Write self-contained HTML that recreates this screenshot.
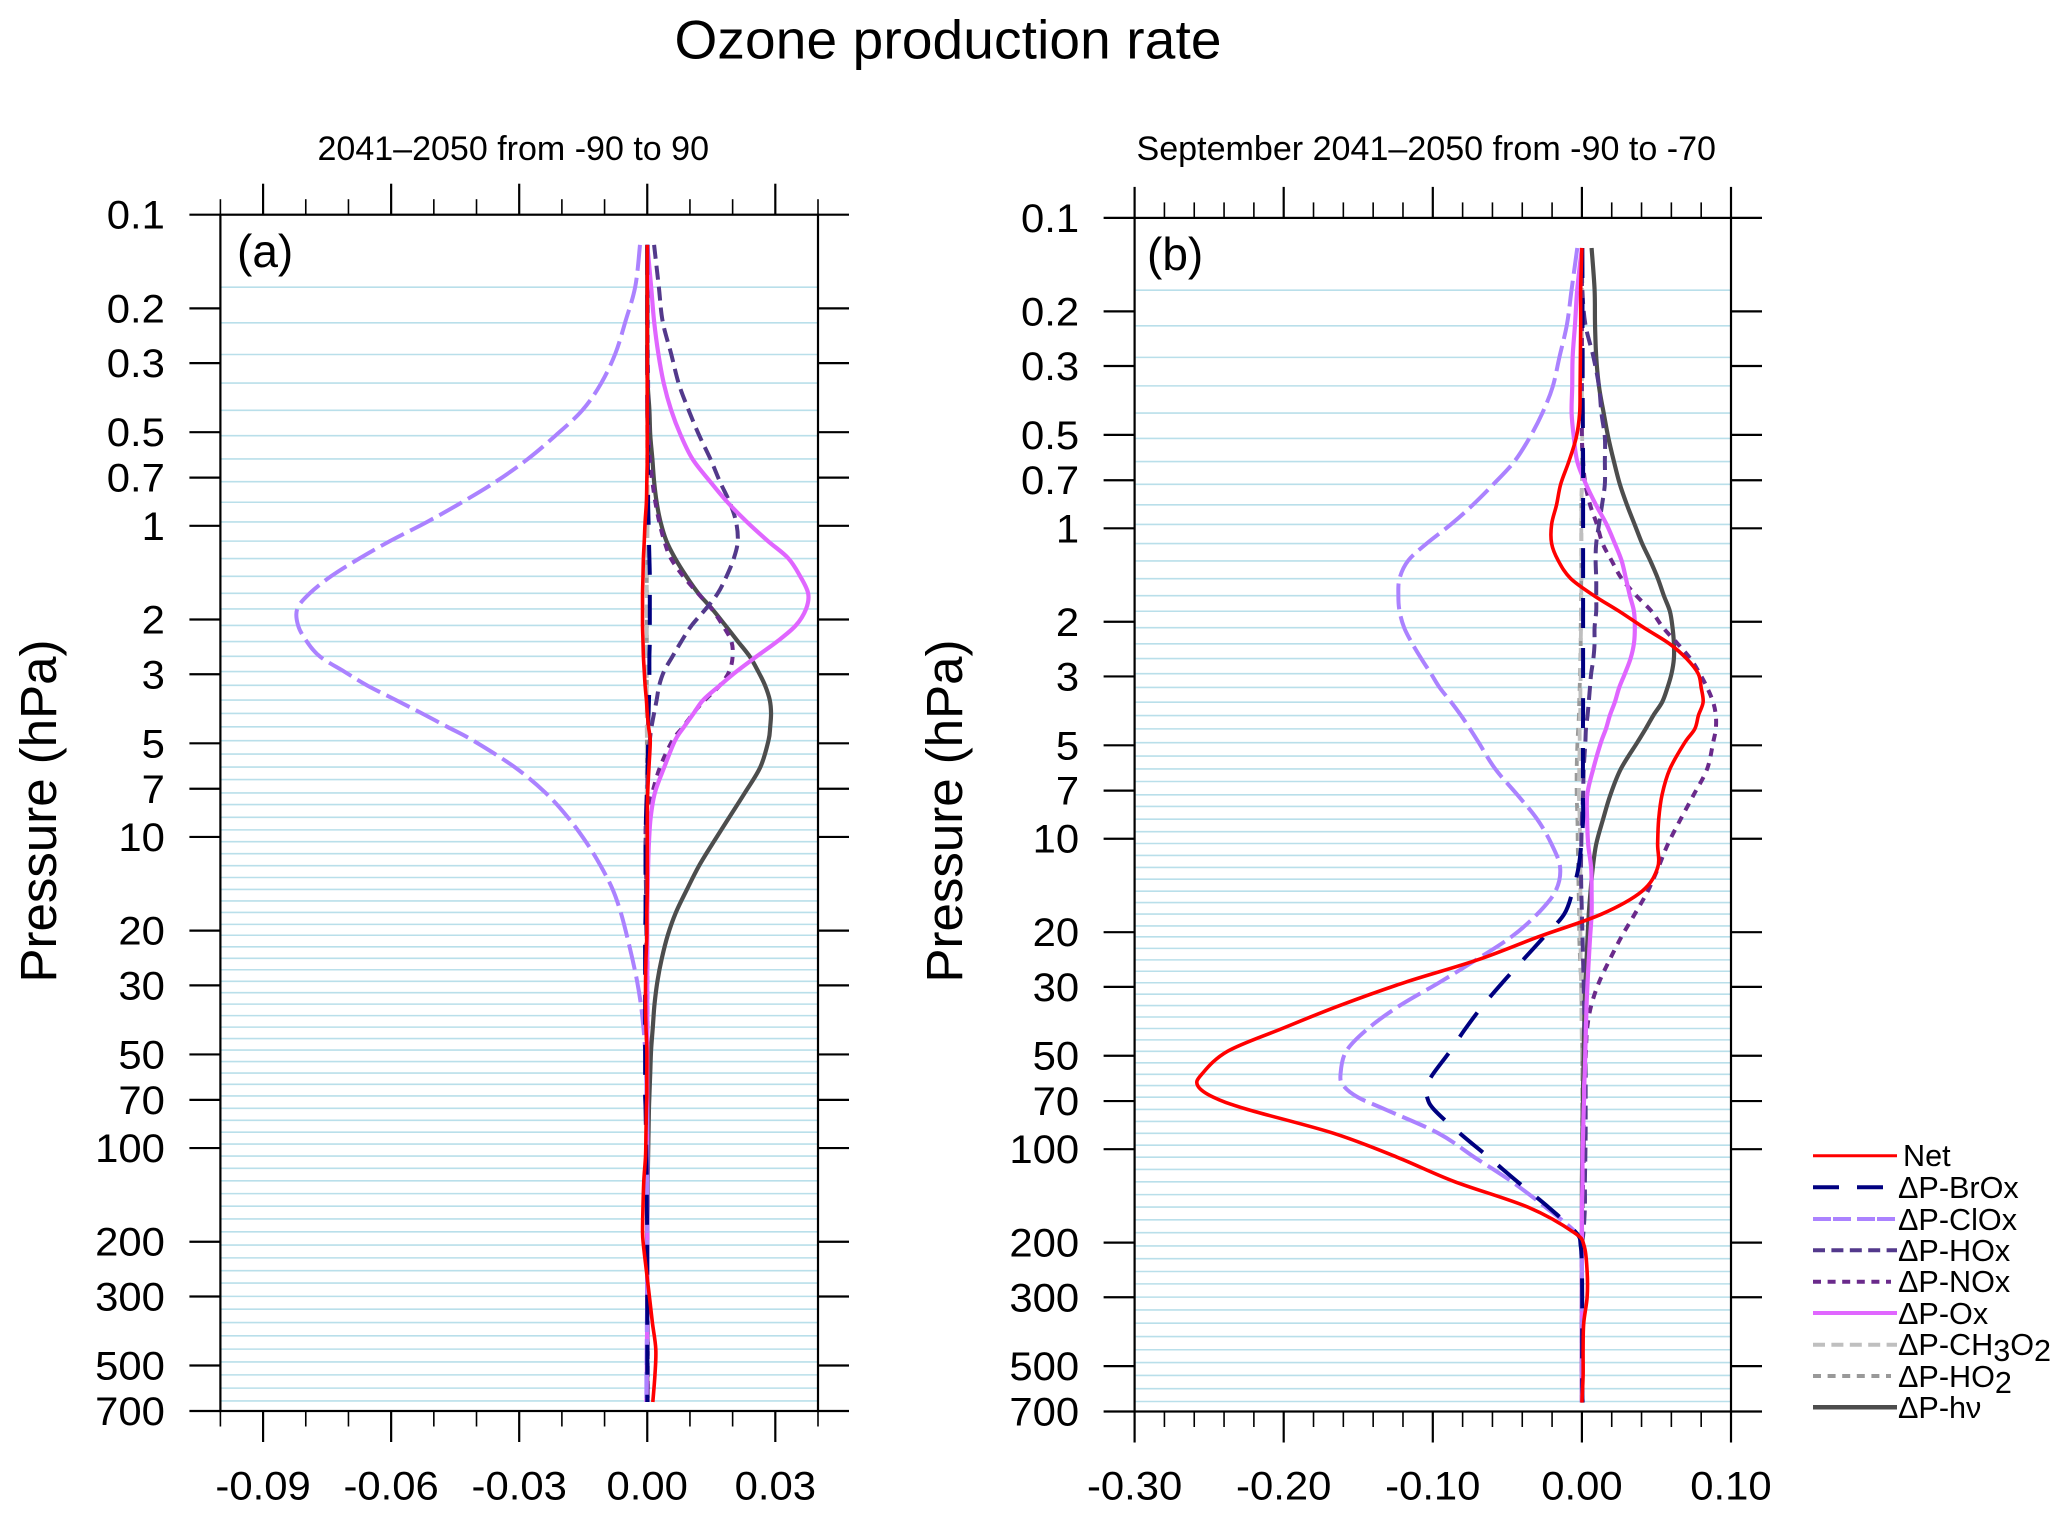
<!DOCTYPE html>
<html lang="en">
<head>
<meta charset="utf-8">
<title>Ozone production rate</title>
<style>
html,body{margin:0;padding:0;background:#fff;}
svg{display:block;font-family:"Liberation Sans",sans-serif;}
text{fill:#000;}
</style>
</head>
<body>
<svg id="chart" xmlns="http://www.w3.org/2000/svg" width="2067" height="1519" viewBox="0 0 2067 1519">
  <rect x="0" y="0" width="2067" height="1519" fill="#fff"/>
  <text x="948" y="58.5" font-size="55" text-anchor="middle" textLength="547">Ozone production rate</text>
  <text x="317.5" y="160" font-size="34" textLength="391.5" lengthAdjust="spacingAndGlyphs">2041–2050 from -90 to 90</text>
  <text x="1136.5" y="160" font-size="34" textLength="579.5" lengthAdjust="spacingAndGlyphs">September 2041–2050 from -90 to -70</text>
  <text transform="translate(56,811) rotate(-90)" font-size="51" text-anchor="middle" textLength="343">Pressure (hPa)</text>
  <text transform="translate(962,811) rotate(-90)" font-size="51" text-anchor="middle" textLength="343">Pressure (hPa)</text>
  <g id="panel-a"></g>
  <g id="panel-b"></g>
  <text x="237" y="267" font-size="46">(a)</text>
  <text x="1147" y="270" font-size="46">(b)</text>

  <g font-size="30.6">
    <g>
      <line x1="1813" x2="1897" y1="1155.7" y2="1155.7" stroke="#ff0000" stroke-width="3"/>
      <text x="1903" y="1166">Net</text>
    </g>
    <g>
      <line x1="1813" x2="1884" y1="1187.3" y2="1187.3" stroke="#000080" stroke-width="4" stroke-dasharray="26 18"/>
      <text x="1898" y="1198">ΔP-BrOx</text>
    </g>
    <g>
      <line x1="1813" x2="1896" y1="1219" y2="1219" stroke="#ab82ff" stroke-width="4" stroke-dasharray="18 2 18 6"/>
      <text x="1898" y="1230">ΔP-ClOx</text>
    </g>
    <g>
      <line x1="1813" x2="1897" y1="1250.3" y2="1250.3" stroke="#53398c" stroke-width="4" stroke-dasharray="12 6.4"/>
      <text x="1898" y="1261">ΔP-HOx</text>
    </g>
    <g>
      <line x1="1813" x2="1891" y1="1281.7" y2="1281.7" stroke="#6a2a8b" stroke-width="4" stroke-dasharray="8 6.6"/>
      <text x="1898" y="1292">ΔP-NOx</text>
    </g>
    <g>
      <line x1="1813" x2="1897" y1="1313" y2="1313" stroke="#e066ff" stroke-width="4"/>
      <text x="1898" y="1324">ΔP-Ox</text>
    </g>
    <g>
      <line x1="1813" x2="1897" y1="1344.7" y2="1344.7" stroke="#bfbfbf" stroke-width="4" stroke-dasharray="12 6.4"/>
      <text x="1898" y="1355">ΔP-CH<tspan dy="6">3</tspan><tspan dy="-6">O</tspan><tspan dy="6">2</tspan></text>
    </g>
    <g>
      <line x1="1813" x2="1891" y1="1376" y2="1376" stroke="#999999" stroke-width="4" stroke-dasharray="8 6.6"/>
      <text x="1898" y="1387">ΔP-HO<tspan dy="6">2</tspan></text>
    </g>
    <g>
      <line x1="1813" x2="1897" y1="1407.3" y2="1407.3" stroke="#4d4d4d" stroke-width="4.5"/>
      <text x="1898" y="1418">ΔP-hν</text>
    </g>
  </g>
</svg>
<script>
// ---- shared axis data ----
const yTickValues = [0.1,0.2,0.3,0.5,0.7,1,2,3,5,7,10,20,30,50,70,100,200,300,500,700];
const xTickLabelsA = ["-0.09","-0.06","-0.03","0.00","0.03"];
const xTickLabelsB = ["-0.30","-0.20","-0.10","0.00","0.10"];
const gridLevels = [0.171,0.2226,0.2814,0.3476,0.4253,0.5133,0.6095,0.7216,0.8399,0.9716,1.12,1.274,1.453,1.648,1.85,2.09,2.355,2.627,2.94,3.256,3.631,4.009,4.427,4.904,5.415,5.96,6.54,7.22,7.87,8.65,9.49,10.36,11.32,12.37,13.5,14.75,16.06,17.49,19.1,20.7,22.55,24.56,26.72,29.1,31.67,34.46,37.52,40.86,44.46,48.4,52.7,57.4,62.4,68,74.5,81.4,88.9,97.1,106.1,116.2,127.4,140.1,153.7,168.9,185.8,205,225.4,247.8,271.6,299.7,329.6,363.7,401.4,442.8,487,535.8,591,650];

// ---- pressure levels (hPa) for all series ----
const levels = [0.125,0.17,0.22,0.28,0.35,0.425,0.51,0.61,0.72,
0.84,0.97,1.12,1.27,1.45,1.65,1.85,2.09,2.35,
2.63,2.94,3.26,3.63,4.0,4.43,4.9,5.96,7.2,
8.65,10.4,12.4,14.75,17.5,20.7,24.6,29,34.5,
40.9,48.4,57.4,62.4,68,74.5,88.9,106,127,
154,186,205,248,300,364,443,536,655];

// ---- panel (a) series ----
const netA = [0,0,0,0,0,0,0,0,-.0001,
-.0002,-.0005,-.0007,-.0009,-.001,-.0011,-.0011,-.0011,-.001,
-.0009,-.0007,-.0005,-.0002,0,.0003,.0007,.0004,.0001,
0,0,0,0,-.0001,-.0001,-.0003,-.0004,-.0004,
-.0003,-.0001,-.0001,-.0001,-.0001,-.0002,-.0003,-.0004,-.0008,
-.001,-.0011,-.0009,-.0002,.0005,.0012,.002,.0018,.0013];
const broxA = [0,0,0,0,0,0,.0001,.0001,.0002,
.0002,.0003,.0004,.0005,.0006,.0006,.0006,.0006,.0006,
.0005,.0005,.0005,.0004,.0003,.0002,.0002,.0001,-.0001,
-.0003,-.0004,-.0004,-.0004,-.0004,-.0005,-.0005,-.0005,-.0005,
-.0005,-.0005,-.0005,-.0005,-.0005,-.0004,-.0003,-.0002,-.0001,
-.0001,0,0,0,0,0,0,0,0];
const cloxA = [-.0017,-.0028,-.0051,-.0075,-.0109,-.0152,-.0213,-.0280,-.0354,
-.0434,-.0515,-.0603,-.0673,-.0740,-.0791,-.0820,-.0818,-.0798,
-.0767,-.0710,-.0656,-.0589,-.0529,-.0468,-.0408,-.0311,-.0239,
-.0186,-.0143,-.0109,-.0081,-.0062,-.0048,-.0035,-.0024,-.0015,
-.0009,-.0005,-.0003,-.0002,-.0002,-.0001,-.0001,0,0,
0,0,0,0,0,-.0001,-.0001,-.0002,-.0002];
const hoxA = [.0016,.0027,.0036,.0056,.0074,.0097,.0121,.0148,.0170,
.0193,.0208,.0212,.0203,.0186,.0165,.0137,.0104,.0080,
.0059,.0039,.0028,.0022,.0016,.0010,.0006,.0001,0,
-.0002,-.0004,-.0004,-.0003,-.0003,-.0002,-.0002,-.0001,-.0001,
-.0001,-.0001,-.0001,0,0,0,0,0,0,
0,0,0,0,.0001,.0001,.0001,.0001,.0001];
const noxA = [.0001,.0001,.0001,.0001,.0002,.0002,.0003,.0006,.0012,
.0019,.0028,.0040,.0055,.0084,.0119,.0151,.0177,.0197,
.0200,.0192,.0170,.0135,.0108,.0084,.0059,.0030,.0012,
-.0002,-.0004,-.0003,-.0002,-.0001,-.0001,0,0,0,
0,0,0,0,0,0,0,0,0,
0,0,0,0,0,0,.0001,.0001,.0001];
const oxA = [0,.0009,.0016,.0026,.0039,.0056,.0078,.0106,.0147,
.0188,.0233,.0283,.0330,.0358,.0377,.0372,.0348,.0305,
.0256,.0209,.0170,.0131,.0109,.0086,.0065,.0040,.0018,
.0008,.0004,.0002,.0001,0,0,0,0,0,
0,0,0,0,0,0,0,0,0,
0,0,0,0,0,0,-.0001,-.0001,-.0002];
const ch3o2A = [0,0,0,0,0,0,0,.0001,.0001,
.0001,.0001,0,0,-.0001,-.0001,-.0001,-.0001,-.0001,
-.0001,-.0001,-.0001,-.0001,-.0001,-.0001,-.0001,-.0001,-.0001,
-.0001,-.0001,-.0001,-.0001,-.0001,-.0001,-.0001,-.0001,-.0001,
0,0,0,0,0,0,0,0,0,
0,0,0,0,0,0,0,0,0];
const ho2A = [0,0,0,0,0,0,0,0,0,
0,0,0,0,-.0001,-.0001,-.0001,-.0001,-.0001,
-.0001,-.0001,-.0001,-.0001,-.0001,-.0001,-.0001,-.0001,-.0001,
-.0001,-.0002,-.0002,-.0002,-.0002,-.0001,-.0001,-.0001,-.0001,
0,0,0,0,0,0,0,0,0,
0,0,0,0,0,0,0,0,0];
const hvA = [0,0,0,0,.0001,.0005,.0007,.0012,.0016,
.0022,.0031,.0045,.0065,.0091,.0120,.0152,.0183,.0212,
.0240,.0260,.0276,.0287,.0290,.0288,.0284,.0265,.0229,
.0192,.0155,.0121,.0093,.0067,.0048,.0034,.0024,.0017,
.0013,.0009,.0007,.0006,.0005,.0004,.0003,.0002,.0001,
.0001,0,0,0,0,0,0,0,0];

// ---- panel (b) series ----
const netB = [0,-.0008,-.0008,-.001,-.0012,-.0015,-.0038,-.0088,-.0142,
-.017,-.0203,-.0203,-.0159,-.0076,.0083,.025,.0416,.0585,
.0702,.078,.08,.0813,.0782,.0757,.069,.059,.0538,
.0515,.0508,.0508,.0404,.0131,-.0292,-.0704,-.1185,-.1627,
-.2012,-.2377,-.255,-.2577,-.2473,-.2242,-.1665,-.1242,-.0858,
-.0358,-.005,.0015,.0035,.0035,.0012,.0008,.0008,0];
const broxB = [.0003,.0004,.0004,.0005,.0005,.0006,.0007,.0008,.0008,
.0008,.0008,.0008,.0008,.0008,.0008,.0008,.0008,.0008,
.0008,.0008,.0008,.0008,.0008,.0007,.0007,.0007,.0007,
.0008,-.0004,-.0023,-.0062,-.0119,-.0254,-.0396,-.0531,-.0665,
-.0781,-.0885,-.1,-.1038,-.1038,-.0992,-.0819,-.0627,-.0435,
-.0223,-.0038,-.0008,0,.0002,.0002,.0002,.0002,.0004];
const cloxB = [-.0031,-.0069,-.0100,-.015,-.0196,-.0265,-.035,-.0454,-.0592,
-.0731,-.0877,-.1042,-.1165,-.1223,-.1231,-.1223,-.1192,-.1138,
-.1077,-.1012,-.0954,-.0877,-.0812,-.075,-.0692,-.0581,-.0435,
-.03,-.0204,-.0146,-.0177,-.03,-.0473,-.0712,-.0954,-.1223,
-.1435,-.1581,-.1619,-.16,-.1504,-.1319,-.0962,-.0723,-.0473,
-.0242,-.0038,-.0008,0,0,0,0,0,0];
const hoxB = [0,.0003,.0023,.0077,.0115,.0131,.0154,.0154,.0154,
.0135,.0115,.0096,.0092,.0096,.0096,.0096,.0085,.0085,
.0077,.0062,.0054,.0046,.0038,.0027,.0023,.0012,.0008,
0,-.0004,-.0006,-.0004,0,.0004,.0008,.0012,.0015,
.0018,.0022,.0025,.0025,.0025,.0025,.0025,.0023,.002,
.002,.001,0,0,0,0,0,0,.0005];
const noxB = [0,0,0,0,0,0,0,.0008,.0023,
.0055,.0100,.0139,.0199,.0266,.0366,.0467,.0545,.0641,
.0728,.0791,.084,.088,.0898,.0898,.088,.084,.0751,
.0662,.0577,.0512,.0442,.0354,.0265,.0185,.0115,.0062,
.0035,.0027,.0019,.0015,.0015,.0012,.0012,.0012,.0008,
.0004,0,0,0,0,0,0,0,0];
const oxB = [0,-.0031,-.0046,-.0062,-.0065,-.0069,-.0054,-.0031,.0027,
.0094,.0165,.0221,.0266,.0295,.0322,.0349,.0355,.0349,
.0326,.0288,.025,.0221,.0188,.0161,.0127,.0076,.0036,
.0035,.0042,.0062,.0065,.0065,.0055,.0046,.0038,.0031,
.0027,.0023,.0019,.0015,.0015,.0012,.0008,.0004,.0004,
0,0,0,0,0,0,0,0,0];
const ch3o2B = [0,0,0,0,0,0,.0002,.0002,0,
-.0003,-.0004,-.0004,-.0004,-.0004,-.0004,-.0006,-.0006,-.0008,
-.0008,-.0008,-.001,-.001,-.0012,-.0015,-.0015,-.0018,-.002,
-.0015,-.0012,-.001,-.001,-.001,-.001,-.0008,-.0006,-.0004,
-.0002,0,.0002,.0002,.0002,.0002,.0002,.0002,.0002,
.0002,.0002,0,0,0,0,0,0,0];
const ho2B = [0,0,0,0,0,0,0,0,0,
-.0004,-.0004,-.0004,-.0004,-.0004,-.0006,-.0006,-.0008,-.0008,
-.001,-.0012,-.0015,-.0018,-.002,-.0025,-.003,-.0035,-.0035,
-.003,-.0028,-.0025,-.0022,-.0018,-.0018,-.0012,-.0005,-.0002,
0,.0002,.0002,.0002,.0002,.0002,.0002,.0002,.0002,
0,0,0,0,0,0,0,0,0];
const hvB = [.0065,.0085,.0088,.0096,.0115,.0146,.0177,.0215,.0254,
.0302,.0353,.0404,.0458,.0509,.055,.059,.0608,.0617,
.0617,.0601,.0574,.0538,.048,.0427,.0371,.0261,.0192,
.0142,.0096,.0073,.0058,.0046,.0038,.0031,.0023,.0019,
.0015,.0012,.001,.0008,.0008,.0006,.0004,.0002,0,
0,0,0,0,0,0,0,0,0];

const SVGNS = "http://www.w3.org/2000/svg";
function make(tag, parent, attrs, text){
  const el = document.createElementNS(SVGNS, tag);
  for (const k in attrs) el.setAttribute(k, attrs[k]);
  if (text !== undefined) el.textContent = text;
  parent.appendChild(el);
  return el;
}
function widen(t){
  t.setAttribute("textLength", (t.getComputedTextLength() * 1.045).toFixed(2));
  t.setAttribute("lengthAdjust", "spacingAndGlyphs");
}
function smoothPath(pts){
  let d = "M" + pts[0][0].toFixed(2) + " " + pts[0][1].toFixed(2);
  for (let i = 0; i < pts.length - 1; i++){
    const p0 = pts[Math.max(i - 1, 0)], p1 = pts[i], p2 = pts[i + 1], p3 = pts[Math.min(i + 2, pts.length - 1)];
    const c1x = p1[0] + (p2[0] - p0[0]) / 6, c1y = p1[1] + (p2[1] - p0[1]) / 6;
    const c2x = p2[0] - (p3[0] - p1[0]) / 6, c2y = p2[1] - (p3[1] - p1[1]) / 6;
    d += "C" + c1x.toFixed(2) + " " + c1y.toFixed(2) + " " + c2x.toFixed(2) + " " + c2y.toFixed(2) + " " + p2[0].toFixed(2) + " " + p2[1].toFixed(2);
  }
  return d;
}

function drawPanel(cfg){
  const g = document.getElementById(cfg.id);
  const x = v => cfg.left + (v - cfg.xMin) / (cfg.xMax - cfg.xMin) * (cfg.right - cfg.left);
  const y = p => cfg.top + (Math.log10(p) - Math.log10(0.1)) / (Math.log10(700) - Math.log10(0.1)) * (cfg.bottom - cfg.top);

  // grid
  gridLevels.forEach(function(p){
    const ln = make("line", g, {x1: cfg.left + 1, x2: cfg.right - 1, y1: y(p), y2: y(p), stroke: "#b9dfea", "stroke-width": 1.6});
    
    
  });

  // series
  cfg.series.forEach(function(s){
    const pts = levels.map((p, i) => [x(s.values[i]), y(p)]);
    const path = make("path", g, {d: smoothPath(pts), fill: "none", stroke: s.color, "stroke-width": s.width, "stroke-dasharray": s.dash || "none", "stroke-linecap": "butt", "stroke-linejoin": "round"});
    
    
  });

  // frame
  const frame = make("rect", g, {x: cfg.left, y: cfg.top, width: cfg.right - cfg.left, height: cfg.bottom - cfg.top, fill: "none", stroke: "#000", "stroke-width": 2.2});
  
  

  // x ticks
  const nMinor = Math.round((cfg.xMax - cfg.xMin) / cfg.minorStep);
  for (let i = 0; i <= nMinor; i++){
    const v = cfg.xMin + i * cfg.minorStep;
    const ratio = (v - cfg.firstMajor) / cfg.majorStep;
    const isMajor = Math.abs(ratio - Math.round(ratio)) < 1e-6 && Math.round(ratio) >= 0;
    const len = isMajor ? 31 : 15.5;
    const t1 = make("line", g, {x1: x(v), x2: x(v), y1: cfg.top, y2: cfg.top - len, stroke: "#000", "stroke-width": isMajor ? 2.2 : 1.6});
    
    
    const t2 = make("line", g, {x1: x(v), x2: x(v), y1: cfg.bottom, y2: cfg.bottom + len, stroke: "#000", "stroke-width": isMajor ? 2.2 : 1.6});
    
    
  }
  cfg.xLabels.forEach(function(lbl){
    const t = make("text", g, {x: x(parseFloat(lbl)), y: 1499.5, "font-size": 40, "text-anchor": "middle"}, lbl);
    
    
    widen(t);
  });

  // y ticks
  yTickValues.forEach(function(p){
    const a = make("line", g, {x1: cfg.left - 31, x2: cfg.left, y1: y(p), y2: y(p), stroke: "#000", "stroke-width": 2.2});
    
    
    const b = make("line", g, {x1: cfg.right, x2: cfg.right + 31, y1: y(p), y2: y(p), stroke: "#000", "stroke-width": 2.2});
    
    
    const t = make("text", g, {x: cfg.left - 55.5, y: y(p) + 14, "font-size": 40, "text-anchor": "end"}, String(p));
    
    
    widen(t);
  });
}

const styleHo2 = {color: "#999999", width: 3.8, dash: "8 7"};
const styleCh3o2 = {color: "#bfbfbf", width: 3.8, dash: "13 7"};
const styleHv = {color: "#4d4d4d", width: 4.2};
const styleNox = {color: "#6a2a8b", width: 4, dash: "8 7"};
const styleHox = {color: "#53398c", width: 4, dash: "14 7"};
const styleOx = {color: "#e066ff", width: 4.2};
const styleClox = {color: "#ab82ff", width: 4, dash: "26 7"};
const styleBrox = {color: "#000080", width: 4, dash: "30 20"};
const styleNet = {color: "#ff0000", width: 3.6};

function seriesList(ho2, ch3o2, hv, nox, hox, ox, clox, brox, net){
  return [
    Object.assign({key: "ho2", values: ho2}, styleHo2),
    Object.assign({key: "ch3o2", values: ch3o2}, styleCh3o2),
    Object.assign({key: "hv", values: hv}, styleHv),
    Object.assign({key: "nox", values: nox}, styleNox),
    Object.assign({key: "hox", values: hox}, styleHox),
    Object.assign({key: "ox", values: ox}, styleOx),
    Object.assign({key: "clox", values: clox}, styleClox),
    Object.assign({key: "brox", values: brox}, styleBrox),
    Object.assign({key: "net", values: net}, styleNet)
  ];
}

drawPanel({
  id: "panel-a", left: 220.4, right: 818, top: 214.7, bottom: 1411,
  xMin: -0.1, xMax: 0.04, minorStep: 0.01, majorStep: 0.03, firstMajor: -0.09,
  xLabels: xTickLabelsA,
  series: seriesList(ho2A, ch3o2A, hvA, noxA, hoxA, oxA, cloxA, broxA, netA)
});
drawPanel({
  id: "panel-b", left: 1134.6, right: 1731, top: 217.9, bottom: 1411.5,
  xMin: -0.3, xMax: 0.1, minorStep: 0.02, majorStep: 0.1, firstMajor: -0.3,
  xLabels: xTickLabelsB,
  series: seriesList(ho2B, ch3o2B, hvB, noxB, hoxB, oxB, cloxB, broxB, netB)
});
</script>
</body>
</html>
